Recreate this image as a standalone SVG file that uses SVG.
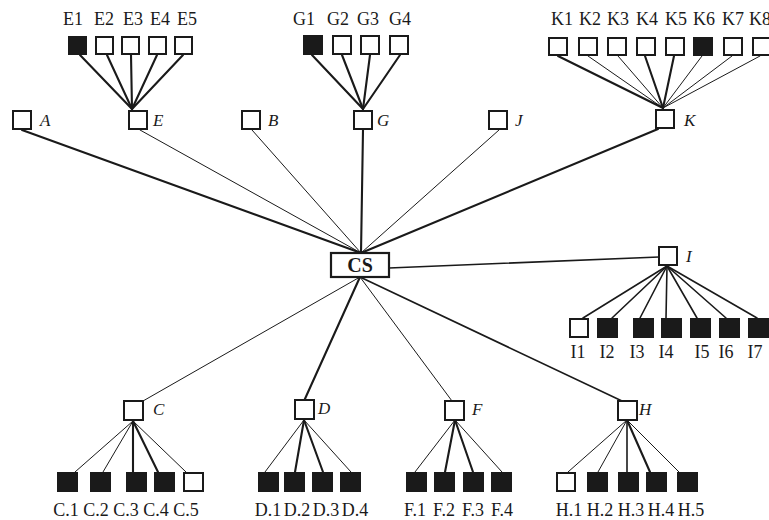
<svg xmlns="http://www.w3.org/2000/svg" width="769" height="520" viewBox="0 0 769 520">
<style>
.bg{fill:#ffffff}
.o{fill:#ffffff;stroke:#1a1a1a;stroke-width:2}
.f{fill:#1a1a1a;stroke:#1a1a1a;stroke-width:2}
.cs{fill:#ffffff;stroke:#1a1a1a;stroke-width:2.2}
line{stroke:#1a1a1a;stroke-linecap:round}
.k{stroke-width:2.1}
.m{stroke-width:1.6}
.t{stroke-width:1}
text{font-family:"Liberation Serif","Times New Roman",serif;font-size:17px;fill:#1a1a1a}
.lb{text-anchor:middle;font-size:18px}
.it{font-style:italic}
.b{font-weight:bold;font-size:20px;text-anchor:middle}
</style>
<rect class="bg" x="0" y="0" width="769" height="520"/>
<g id="connectors">
<line class="k" x1="22" y1="130" x2="361" y2="253"/>
<line class="t" x1="140" y1="130" x2="361" y2="253"/>
<line class="t" x1="252" y1="130" x2="361" y2="253"/>
<line class="k" x1="363" y1="130" x2="361" y2="253"/>
<line class="t" x1="499" y1="130" x2="361" y2="253"/>
<line class="k" x1="658" y1="129" x2="361" y2="253"/>
<line class="m" x1="389" y1="268" x2="659" y2="257"/>
<line class="t" x1="360" y1="277" x2="143" y2="401"/>
<line class="k" x1="360" y1="277" x2="304" y2="401"/>
<line class="t" x1="360" y1="277" x2="452" y2="401"/>
<line class="m" x1="360" y1="277" x2="622" y2="401"/>
<line class="k" x1="80" y1="55" x2="132" y2="109"/>
<line class="k" x1="107" y1="55" x2="132" y2="109"/>
<line class="k" x1="131" y1="55" x2="132" y2="109"/>
<line class="k" x1="157" y1="55" x2="132" y2="109"/>
<line class="k" x1="183" y1="55" x2="132" y2="109"/>
<line class="k" x1="312" y1="55" x2="363" y2="109"/>
<line class="k" x1="342" y1="55" x2="363" y2="109"/>
<line class="k" x1="370" y1="55" x2="363" y2="109"/>
<line class="k" x1="400" y1="55" x2="363" y2="109"/>
<line class="k" x1="558" y1="56" x2="663" y2="108"/>
<line class="t" x1="588" y1="56" x2="663" y2="108"/>
<line class="t" x1="618" y1="56" x2="663" y2="108"/>
<line class="k" x1="645" y1="56" x2="663" y2="108"/>
<line class="k" x1="674" y1="56" x2="663" y2="108"/>
<line class="t" x1="702" y1="56" x2="663" y2="108"/>
<line class="t" x1="732" y1="56" x2="663" y2="108"/>
<line class="t" x1="760" y1="56" x2="663" y2="108"/>
<line class="m" x1="667" y1="266" x2="583" y2="318"/>
<line class="m" x1="667" y1="266" x2="612" y2="318"/>
<line class="m" x1="667" y1="266" x2="640" y2="318"/>
<line class="m" x1="667" y1="266" x2="666" y2="318"/>
<line class="m" x1="667" y1="266" x2="697" y2="318"/>
<line class="m" x1="667" y1="266" x2="726" y2="318"/>
<line class="m" x1="667" y1="266" x2="757" y2="318"/>
<line class="t" x1="133" y1="421" x2="75" y2="472"/>
<line class="t" x1="133" y1="421" x2="103" y2="472"/>
<line class="k" x1="133" y1="421" x2="133" y2="472"/>
<line class="k" x1="133" y1="421" x2="158" y2="472"/>
<line class="t" x1="133" y1="421" x2="186" y2="472"/>
<line class="t" x1="304" y1="420" x2="265" y2="472"/>
<line class="k" x1="304" y1="420" x2="295" y2="472"/>
<line class="k" x1="304" y1="420" x2="323" y2="472"/>
<line class="t" x1="304" y1="420" x2="351" y2="472"/>
<line class="t" x1="455" y1="420" x2="415" y2="472"/>
<line class="k" x1="455" y1="420" x2="445" y2="472"/>
<line class="k" x1="455" y1="420" x2="473" y2="472"/>
<line class="t" x1="455" y1="420" x2="502" y2="472"/>
<line class="t" x1="627" y1="420" x2="568" y2="472"/>
<line class="t" x1="627" y1="420" x2="598" y2="472"/>
<line class="m" x1="627" y1="420" x2="627" y2="472"/>
<line class="k" x1="627" y1="420" x2="650" y2="472"/>
<line class="t" x1="627" y1="420" x2="679" y2="472"/>
</g>

<g id="CS"><rect class="cs" x="331" y="253" width="58" height="24"/><text class="b" x="360" y="272">CS</text></g>

<g id="A"><rect class="o" x="13" y="111" width="18" height="18"/><text class="it" x="40" y="126">A</text></g>
<g id="E"><rect class="o" x="129" y="111" width="18" height="18"/><text class="it" x="153" y="126">E</text></g>
<g id="B"><rect class="o" x="242" y="111" width="18" height="18"/><text class="it" x="268" y="126">B</text></g>
<g id="G"><rect class="o" x="354" y="111" width="18" height="18"/><text class="it" x="377" y="126">G</text></g>
<g id="J"><rect class="o" x="489" y="111" width="18" height="18"/><text class="it" x="515" y="126">J</text></g>
<g id="K"><rect class="o" x="656" y="110" width="18" height="18"/><text class="it" x="684" y="126">K</text></g>
<g id="I"><rect class="o" x="659" y="247" width="18" height="18"/><text class="it" x="686" y="262">I</text></g>
<g id="C"><rect class="o" x="124" y="401" width="19" height="19"/><text class="it" x="153" y="415">C</text></g>
<g id="D"><rect class="o" x="295" y="400" width="19" height="19"/><text class="it" x="318" y="414">D</text></g>
<g id="F"><rect class="o" x="445" y="401" width="19" height="19"/><text class="it" x="472" y="415">F</text></g>
<g id="H"><rect class="o" x="618" y="401" width="19" height="19"/><text class="it" x="639" y="415">H</text></g>

<g id="E1"><rect class="f" x="69" y="37" width="17" height="17"/><text class="lb" x="73" y="25">E1</text></g>
<g id="E2"><rect class="o" x="96" y="37" width="17" height="17"/><text class="lb" x="104" y="25">E2</text></g>
<g id="E3"><rect class="o" x="122" y="37" width="17" height="17"/><text class="lb" x="133" y="25">E3</text></g>
<g id="E4"><rect class="o" x="149" y="37" width="17" height="17"/><text class="lb" x="160" y="25">E4</text></g>
<g id="E5"><rect class="o" x="175" y="37" width="17" height="17"/><text class="lb" x="187" y="25">E5</text></g>

<g id="G1"><rect class="f" x="304" y="36" width="18" height="18"/><text class="lb" x="304" y="25">G1</text></g>
<g id="G2"><rect class="o" x="333" y="36" width="18" height="18"/><text class="lb" x="338" y="25">G2</text></g>
<g id="G3"><rect class="o" x="361" y="36" width="18" height="18"/><text class="lb" x="368" y="25">G3</text></g>
<g id="G4"><rect class="o" x="390" y="36" width="18" height="18"/><text class="lb" x="400" y="25">G4</text></g>

<g id="K1"><rect class="o" x="549" y="38" width="18" height="17"/><text class="lb" x="562" y="25">K1</text></g>
<g id="K2"><rect class="o" x="579" y="38" width="18" height="17"/><text class="lb" x="590" y="25">K2</text></g>
<g id="K3"><rect class="o" x="608" y="38" width="18" height="17"/><text class="lb" x="618" y="25">K3</text></g>
<g id="K4"><rect class="o" x="637" y="38" width="18" height="17"/><text class="lb" x="647" y="25">K4</text></g>
<g id="K5"><rect class="o" x="666" y="38" width="18" height="17"/><text class="lb" x="676" y="25">K5</text></g>
<g id="K6"><rect class="f" x="694" y="38" width="18" height="17"/><text class="lb" x="704" y="25">K6</text></g>
<g id="K7"><rect class="o" x="724" y="38" width="18" height="17"/><text class="lb" x="733" y="25">K7</text></g>
<g id="K8"><rect class="o" x="753" y="38" width="18" height="17"/><text class="lb" x="760" y="25">K8</text></g>

<g id="I1"><rect class="o" x="570" y="319" width="18" height="18"/><text class="lb" x="578" y="358">I1</text></g>
<g id="I2"><rect class="f" x="598" y="319" width="19" height="18"/><text class="lb" x="607" y="358">I2</text></g>
<g id="I3"><rect class="f" x="634" y="319" width="19" height="18"/><text class="lb" x="637" y="358">I3</text></g>
<g id="I4"><rect class="f" x="662" y="319" width="19" height="18"/><text class="lb" x="666" y="358">I4</text></g>
<g id="I5"><rect class="f" x="691" y="319" width="19" height="18"/><text class="lb" x="702" y="358">I5</text></g>
<g id="I6"><rect class="f" x="720" y="319" width="19" height="18"/><text class="lb" x="726" y="358">I6</text></g>
<g id="I7"><rect class="f" x="749" y="319" width="19" height="18"/><text class="lb" x="755" y="358">I7</text></g>

<g id="C1"><rect class="f" x="58" y="473" width="19" height="18"/><text class="lb" x="66" y="516">C.1</text></g>
<g id="C2"><rect class="f" x="91" y="473" width="19" height="18"/><text class="lb" x="96" y="516">C.2</text></g>
<g id="C3"><rect class="f" x="127" y="473" width="19" height="18"/><text class="lb" x="126" y="516">C.3</text></g>
<g id="C4"><rect class="f" x="155" y="473" width="19" height="18"/><text class="lb" x="156" y="516">C.4</text></g>
<g id="C5"><rect class="o" x="184" y="473" width="19" height="18"/><text class="lb" x="186" y="516">C.5</text></g>

<g id="D1"><rect class="f" x="259" y="473" width="19" height="18"/><text class="lb" x="268" y="516">D.1</text></g>
<g id="D2"><rect class="f" x="285" y="473" width="19" height="18"/><text class="lb" x="297" y="516">D.2</text></g>
<g id="D3"><rect class="f" x="313" y="473" width="19" height="18"/><text class="lb" x="326" y="516">D.3</text></g>
<g id="D4"><rect class="f" x="341" y="473" width="19" height="18"/><text class="lb" x="355" y="516">D.4</text></g>

<g id="F1"><rect class="f" x="407" y="473" width="19" height="18"/><text class="lb" x="415" y="516">F.1</text></g>
<g id="F2"><rect class="f" x="435" y="473" width="19" height="18"/><text class="lb" x="444" y="516">F.2</text></g>
<g id="F3"><rect class="f" x="464" y="473" width="19" height="18"/><text class="lb" x="473" y="516">F.3</text></g>
<g id="F4"><rect class="f" x="492" y="473" width="19" height="18"/><text class="lb" x="502" y="516">F.4</text></g>

<g id="H1"><rect class="o" x="557" y="473" width="18" height="18"/><text class="lb" x="569" y="516">H.1</text></g>
<g id="H2"><rect class="f" x="588" y="473" width="19" height="18"/><text class="lb" x="600" y="516">H.2</text></g>
<g id="H3"><rect class="f" x="619" y="473" width="19" height="18"/><text class="lb" x="631" y="516">H.3</text></g>
<g id="H4"><rect class="f" x="647" y="473" width="19" height="18"/><text class="lb" x="661" y="516">H.4</text></g>
<g id="H5"><rect class="f" x="678" y="473" width="19" height="18"/><text class="lb" x="691" y="516">H.5</text></g>
</svg>
